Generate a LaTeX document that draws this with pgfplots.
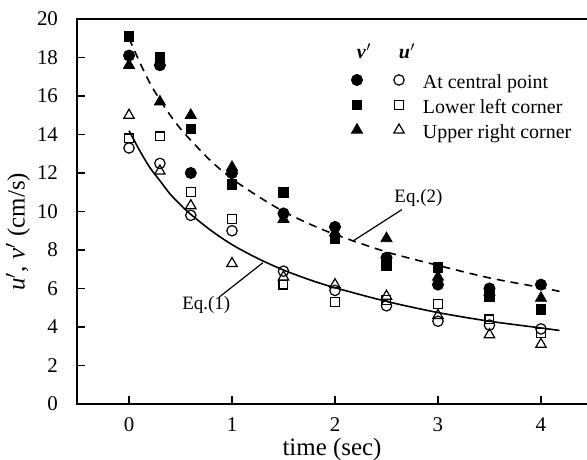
\documentclass[border=0pt]{standalone}
\usepackage{fontspec}
\setmainfont{Liberation Serif}
\usepackage{pgfplots}
\pgfplotsset{compat=1.18}
\usetikzlibrary{calc}
\pgfplotsset{
 legL/.style={legend image code/.code={\path[draw=none,fill=none] (-10bp,-3.5bp) rectangle (10bp,8.5bp); \draw[##1] plot coordinates {(0bp,2.5bp)};}},
 legR/.style={legend image code/.code={\path[draw=none,fill=none] (-10bp,-3.5bp) rectangle (12bp,8.5bp); \draw[##1] plot coordinates {(0bp,2.5bp)};}},
}
\begin{document}
\begin{tikzpicture}
\begin{axis}[
 scale only axis, width=255bp, height=192.5bp,
 xmin=-0.505, xmax=4.447, ymin=0, ymax=20,
 xtick={0,1,2,3,4}, ytick={0,2,...,20},
 tick align=inside, tick pos=left, major tick length=4bp,
 tick style={line width=0.75bp, black},
 axis line style={draw=none},
 clip=false,
 /pgf/number format/assume math mode=true,
 ticklabel style={font=\fontsize{10.5}{12}\selectfont},
 yticklabel style={xshift=-6bp},
 xticklabel style={yshift=-3.5bp},
 xlabel={time (sec)}, ylabel={\textit{u}$'$, \textit{v}$'$ (cm/s)},
 ylabel style={font=\fontsize{12.5}{14}\selectfont, at={(axis description cs:-0.1157,0.447)}, anchor=center},
 xlabel style={font=\fontsize{12.5}{14}\selectfont, inner sep=0pt, at={(axis description cs:0.5,-0.117)}, anchor=center},
 legend columns=2,
 legend cell align=left,
 legend style={at={(rel axis cs:0.5098,0.9377)}, anchor=north west, draw=none, fill=none, inner sep=0pt, outer sep=0pt, column sep=0pt, row sep=0pt, font=\fontsize{10}{11}\selectfont, nodes={inner sep=0pt, text height=6bp, text depth=2bp}},
]
\coordinate (sw) at (rel axis cs:0,0);
\coordinate (ne) at (rel axis cs:1,1);
\draw[line width=0.75bp] (rel axis cs:1,1) -- (rel axis cs:0,1) -- (rel axis cs:0,0) -- (rel axis cs:1,0);

% fitted curves
\addplot[forget plot, black, line width=0.8bp, smooth] coordinates {(0,14.2) (0.1,13.2) (0.2,12.3) (0.3,11.6) (0.4,10.9) (0.5,10.35) (0.6,9.85) (0.8,9.0) (1,8.28) (1.25,7.56) (1.5,6.96) (1.75,6.46) (2,6.04) (2.5,5.33) (3,4.75) (3.5,4.3) (4,3.95) (4.18,3.82)};
\addplot[forget plot, black, line width=0.8bp, dash pattern=on 4bp off 3bp, smooth] coordinates {(0,19.0) (0.1,17.8) (0.2,16.7) (0.3,15.8) (0.4,15.0) (0.5,14.3) (0.6,13.7) (0.8,12.6) (1,11.7) (1.25,10.8) (1.5,10.0) (1.75,9.36) (2,8.81) (2.5,7.9) (3,7.2) (3.5,6.55) (4,6.05) (4.18,5.85)};

\addlegendimage{legend image code/.code={\path[draw=none,fill=none] (-10bp,-3.5bp) rectangle (10bp,8.5bp); \node[inner sep=0pt] at (0,2.5bp) {\textbf{\textit{v}}$'$};}}
\addlegendentry{\mbox{}}
\addlegendimage{legend image code/.code={\path[draw=none,fill=none] (-10bp,-3.5bp) rectangle (12bp,8.5bp); \node[inner sep=0pt] at (0,2.5bp) {\textbf{\textit{u}}$'$};}}
\addlegendentry{\mbox{}}

\addplot[only marks, black, mark=*, mark size=2.8bp, legL] coordinates {(0,18.1) (0.3,17.6) (0.6,12.0) (1,12.0) (1.5,9.9) (2,9.2) (2.5,7.6) (3,6.2) (3.5,6.0) (4,6.2)};
\addlegendentry{\mbox{}}
\addplot[only marks, black, mark=o, mark size=2.6bp, mark options={fill=white, line width=0.6bp}, legR] coordinates {(0,13.3) (0.3,12.5) (0.6,9.8) (1,9.0) (1.5,6.9) (2,5.9) (2.5,5.1) (3,4.3) (3.5,4.1) (4,3.9)};
\addlegendentry{At central point}
\addplot[only marks, black, mark=square*, mark size=2.4bp, legL] coordinates {(0,19.1) (0.3,18.0) (0.6,14.3) (1,11.4) (1.5,11.0) (2,8.6) (2.5,7.2) (3,7.1) (3.5,5.6) (4,4.9)};
\addlegendentry{\mbox{}}
\addplot[only marks, black, mark=square, mark size=2.2bp, mark options={fill=white, line width=0.6bp}, legR] coordinates {(0,13.8) (0.3,13.9) (0.6,11.0) (1,9.6) (1.5,6.2) (2,5.3) (2.5,5.4) (3,5.2) (3.5,4.4) (4,3.7)};
\addlegendentry{Lower left corner}
\addplot[only marks, black, mark=triangle*, mark size=3.2bp, legL] coordinates {(0,17.6) (0.3,15.7) (0.6,15.0) (1,12.3) (1.5,9.6) (2,8.9) (2.5,8.6) (3,6.6) (3.5,5.8) (4,5.5)};
\addlegendentry{\mbox{}}
\addplot[only marks, black, mark=triangle, mark size=3.0bp, mark options={fill=white, line width=0.6bp}, legR] coordinates {(0,15.0) (0.3,12.1) (0.6,10.3) (1,7.3) (1.5,6.6) (2,6.2) (2.5,5.6) (3,4.6) (3.5,3.6) (4,3.1)};
\addlegendentry{Upper right corner}

\draw[line width=0.6bp] (axis cs:0.88,5.57) -- (axis cs:1.30,7.34);
\node[font=\fontsize{9.5}{10}\selectfont] at (axis cs:0.75,5.15) {Eq.(1)};
\draw[line width=0.6bp] (axis cs:2.17,8.45) -- (axis cs:2.65,10.1);
\node[font=\fontsize{9.5}{10}\selectfont] at (axis cs:2.81,10.68) {Eq.(2)};
\end{axis}
\pgfresetboundingbox
\path ($(sw)+(-38.5bp,-28bp)$) rectangle ($(ne)+(0bp,9.5bp)$);
\end{tikzpicture}
\end{document}
